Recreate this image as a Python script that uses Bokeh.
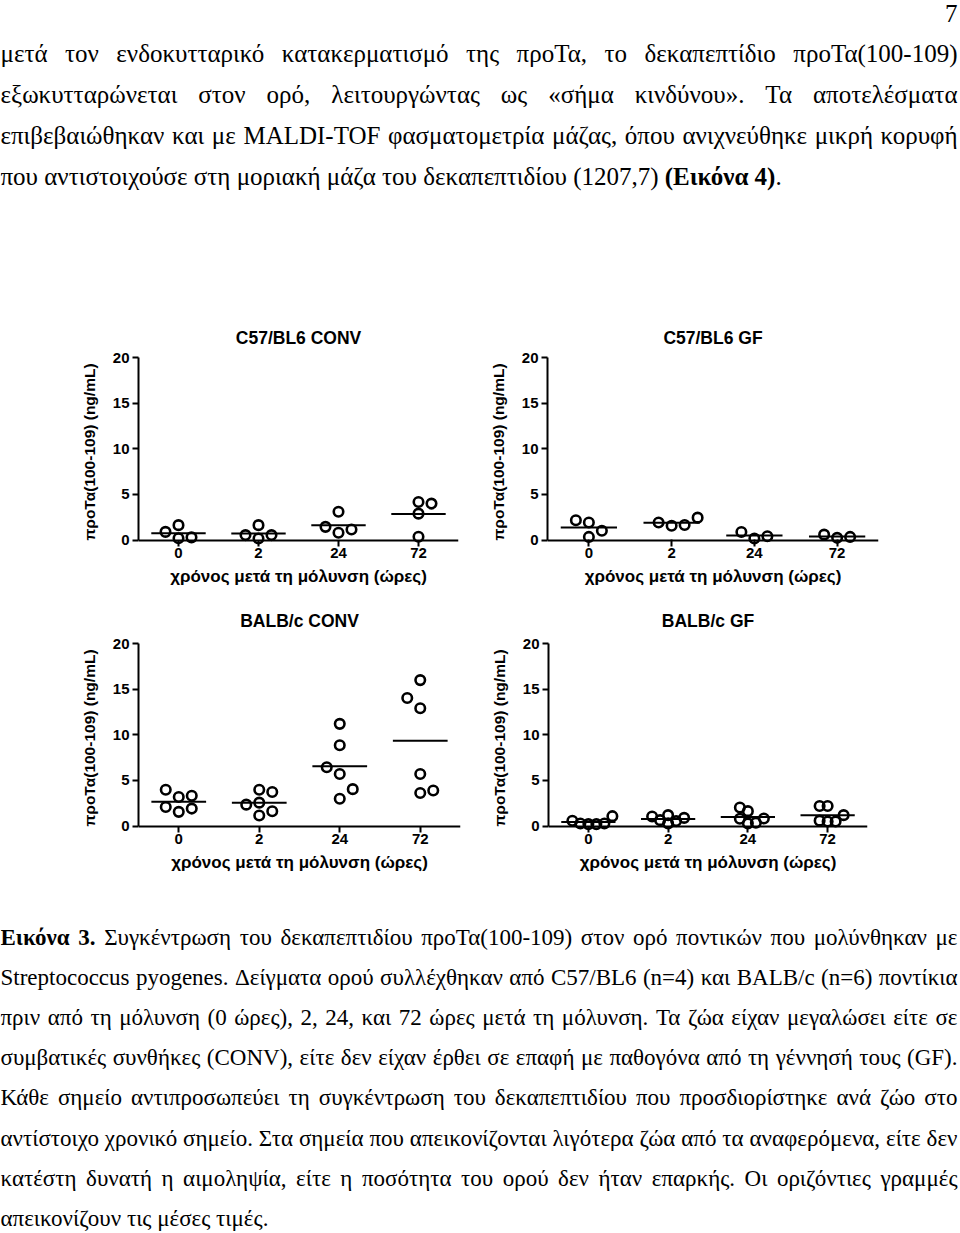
import glob
import os
import numpy as np
from bokeh.plotting import figure
from bokeh.models import Range1d, FixedTicker, ColumnDataSource, LinearAxis
from bokeh.layouts import column, row
from bokeh.core.properties import value
from bokeh.embed import file_html
from bokeh.resources import INLINE

# ---------------- data ----------------
time_labels = ["0", "2", "24", "72"]
panel_titles = ["C57/BL6 CONV", "C57/BL6 GF", "BALB/c CONV", "BALB/c GF"]
y_axis_title = "προΤα(100-109) (ng/mL)"
x_axis_title = "χρόνος μετά τη μόλυνση (ώρες)"

c57_conv = [[0.9, 1.64, 0.2, 0.3],
            [0.55, 1.64, 0.18, 0.55],
            [1.45, 3.1, 0.8, 1.16],
            [4.0, 4.18, 2.9, 0.36]]
c57_gf = [[2.18, 1.93, 1.02, 0.35],
          [1.93, 1.58, 2.46, 1.65],
          [0.88, 0.18, 0.42],
          [0.6, 0.25, 0.35]]
balb_conv = [[3.33, 3.18, 3.98, 2.1, 1.56, 1.92],
             [2.35, 3.73, 3.98, 2.57, 1.16, 1.63],
             [6.44, 11.2, 8.86, 5.71, 3.0, 4.05],
             [15.99, 14.03, 12.91, 5.71, 3.62, 3.9]]
balb_gf = [[1.09, 0.29, 0.22, 0.22, 0.29, 0.58],
           [1.2, 0.55, 0.9, 0.3, 0.65, 1.05],
           [2.04, 1.64, 0.84, 0.8, 0.36, 0.3],
           [2.2, 2.2, 1.2, 0.6, 0.5, 0.5]]

page_number = "7"
body_lines = [
    "μετά τον ενδοκυτταρικό κατακερματισμό της προΤα, το δεκαπεπτίδιο προΤα(100-109)",
    "εξωκυτταρώνεται στον ορό, λειτουργώντας ως «σήμα κινδύνου». Τα αποτελέσματα",
    "επιβεβαιώθηκαν και με MALDI-TOF φασματομετρία μάζας, όπου ανιχνεύθηκε μικρή κορυφή",
    "που αντιστοιχούσε στη μοριακή μάζα του δεκαπεπτιδίου (1207,7) **(Εικόνα 4)**.",
]
caption_lines = [
    "**Εικόνα 3.** Συγκέντρωση του δεκαπεπτιδίου προΤα(100-109) στον ορό ποντικών που μολύνθηκαν με",
    "Streptococcus pyogenes. Δείγματα ορού συλλέχθηκαν από C57/BL6 (n=4) και BALB/c (n=6) ποντίκια",
    "πριν από τη μόλυνση (0 ώρες), 2, 24, και 72 ώρες μετά τη μόλυνση. Τα ζώα είχαν μεγαλώσει είτε σε",
    "συμβατικές συνθήκες (CONV), είτε δεν είχαν έρθει σε επαφή με παθογόνα από τη γέννησή τους (GF).",
    "Κάθε σημείο αντιπροσωπεύει τη συγκέντρωση του δεκαπεπτιδίου που προσδιορίστηκε ανά ζώο στο",
    "αντίστοιχο χρονικό σημείο. Στα σημεία που απεικονίζονται λιγότερα ζώα από τα αναφερόμενα, είτε δεν",
    "κατέστη δυνατή η αιμοληψία, είτε η ποσότητα του ορού δεν ήταν επαρκής. Οι οριζόντιες γραμμές",
    "απεικονίζουν τις μέσες τιμές.",
]

# ---------------- text helpers ----------------
SERIF = "Liberation Serif"
SANS = "Liberation Sans"
BODY_PX = 25
CAPTION_PX = 23
PAGE_W = 960
TEXT_LEFT, TEXT_RIGHT = 0, 957

_font_cache = {}


def _find_font(fname):
    for d in ["/usr/share/fonts", "/usr/local/share/fonts", os.path.expanduser("~/.fonts")]:
        hits = glob.glob(os.path.join(d, "**", fname), recursive=True)
        if hits:
            return hits[0]
    return None


def measure(s, bold, size):
    key = (bold, size)
    if key not in _font_cache:
        f = None
        try:
            from PIL import ImageFont
            fname = "LiberationSerif-Bold.ttf" if bold else "LiberationSerif-Regular.ttf"
            path = _find_font(fname) or fname
            f = ImageFont.truetype(path, size)
        except Exception:
            f = None
        _font_cache[key] = f
    f = _font_cache[key]
    if f is not None:
        return f.getlength(s)
    return len(s) * size * (0.5 if bold else 0.45)


def parse(line):
    parts = line.split("**")
    runs = [(t, i % 2 == 1) for i, t in enumerate(parts) if t]
    words = [[]]
    for t, b in runs:
        pieces = t.split(" ")
        for j, piece in enumerate(pieces):
            if j > 0:
                words.append([])
            if piece:
                words[-1].append((piece, b))
    return [w for w in words if w]


def layout_lines(lines, baselines, left, right, size):
    reg = dict(x=[], y=[], t=[])
    bld = dict(x=[], y=[], t=[])
    space = measure(" ", False, size)
    for k, (line, yb) in enumerate(zip(lines, baselines)):
        words = parse(line)
        widths = [sum(measure(t, b, size) for t, b in w) for w in words]
        last = (k == len(lines) - 1)
        if last or len(words) < 2:
            gap = space
        else:
            gap = max((right - left - sum(widths)) / (len(words) - 1), space * 0.5)
        x = left
        for w, wd in zip(words, widths):
            xx = x
            for t, b in w:
                d = bld if b else reg
                d["x"].append(xx)
                d["y"].append(yb)
                d["t"].append(t)
                xx += measure(t, b, size)
            x += wd + gap
    return reg, bld


def text_figure(height, top, lines, baselines, size, extra=None):
    p = figure(width=PAGE_W, height=height, x_range=Range1d(0, PAGE_W),
               y_range=Range1d(top + height, top), min_border=0,
               x_axis_location=None, y_axis_location=None,
               output_backend="svg", toolbar_location=None)
    p.grid.visible = False
    p.outline_line_color = None
    reg, bld = layout_lines(lines, baselines, TEXT_LEFT, TEXT_RIGHT, size)
    for d, style in ((reg, "normal"), (bld, "bold")):
        p.text(x="x", y="y", text="t", source=ColumnDataSource(d),
               text_font=value(SERIF), text_font_size=f"{size}px",
               text_font_style=style, text_color="black",
               text_baseline="alphabetic", text_align="left")
    if extra:
        p.text(x=[extra[1]], y=[extra[2]], text=[extra[0]],
               text_font=value(SERIF), text_font_size=f"{size}px",
               text_color="black", text_baseline="alphabetic", text_align="right")
    return p


# ---------------- panel helpers ----------------
Y_LOW = -0.7
Y_HIGH = 20.0


def swarm(vals, px_x, px_y, step, diam):
    vals = np.asarray(vals, dtype=float)
    order = np.argsort(vals, kind="stable")
    placed = []
    offs = np.zeros(len(vals))
    npos = nneg = 0
    for i in order:
        y = vals[i] * px_y
        cands = [0.0]
        for k in range(1, 10):
            if npos <= nneg:
                cands += [k * step, -k * step]
            else:
                cands += [-k * step, k * step]
        chosen = cands[-1]
        for c in cands:
            if all((c - qx) ** 2 + (y - qy) ** 2 >= diam ** 2 for qx, qy in placed):
                chosen = c
                break
        placed.append((chosen, y))
        offs[i] = chosen / px_x
        if chosen > 0:
            npos += 1
        elif chosen < 0:
            nneg += 1
    return offs


def style_axis(ax):
    ax.axis_line_width = 2
    ax.axis_line_color = "black"
    ax.major_tick_line_width = 2
    ax.major_tick_line_color = "black"
    ax.major_tick_in = 0
    ax.minor_tick_line_color = None
    ax.major_label_text_font = SANS
    ax.major_label_text_font_style = "bold"
    ax.major_label_text_font_size = "15px"
    ax.major_label_text_color = "black"
    ax.axis_label_text_font = SANS
    ax.axis_label_text_font_style = "bold"
    ax.axis_label_text_font_size = "17px"
    ax.axis_label_text_color = "black"


def make_panel(title, groups, width, height, left, right, top, bottom,
               title_standoff, step, diam):
    p = figure(width=width, height=height,
               x_range=Range1d(0, len(time_labels)), y_range=Range1d(Y_LOW, Y_HIGH),
               min_border_left=left, min_border_right=right,
               min_border_top=top, min_border_bottom=bottom,
               output_backend="svg", toolbar_location=None, title=title)
    p.grid.visible = False
    p.outline_line_color = None

    p.title.align = "center"
    p.title.text_font = SANS
    p.title.text_font_size = "17.5px"
    p.title.text_font_style = "bold"
    p.title.text_color = "black"
    p.title.standoff = title_standoff

    frame_w = width - left - right
    frame_h = height - top - bottom
    px_x = frame_w / len(time_labels)
    px_y = frame_h / (Y_HIGH - Y_LOW)

    xs, ys = [], []
    centers, means = [], []
    for gi, vals in enumerate(groups):
        c = gi + 0.5
        offs = swarm(vals, px_x, px_y, step, diam)
        xs += list(c + offs)
        ys += list(vals)
        centers.append(c)
        means.append(float(np.mean(vals)))
    centers = np.array(centers)
    p.segment(x0=centers - 0.34, x1=centers + 0.34, y0=means, y1=means,
              line_color="black", line_width=2)
    p.scatter(x=xs, y=ys, marker="circle", size=9.5, fill_color="white",
              fill_alpha=0.0, line_color="black", line_width=2.6)

    tick_pos = [i + 0.5 for i in range(len(time_labels))]

    # axis at the frame bottom: labels, title, and ticks reaching up to y = 0
    xa = p.xaxis[0]
    style_axis(xa)
    xa.ticker = FixedTicker(ticks=tick_pos)
    xa.major_label_overrides = {t: lab for t, lab in zip(tick_pos, time_labels)}
    xa.axis_label = x_axis_title
    xa.axis_line_color = None
    xa.major_tick_out = 0
    xa.major_tick_in = int(round(-Y_LOW * px_y))
    xa.major_label_standoff = 1
    xa.axis_label_standoff = 6

    # the visible axis line exactly at y = 0
    x0 = LinearAxis(fixed_location=0, ticker=FixedTicker(ticks=[]))
    style_axis(x0)
    x0.major_tick_out = 0
    x0.major_label_standoff = 0
    x0.axis_label_standoff = 0
    p.add_layout(x0, "below")

    ya = p.yaxis[0]
    style_axis(ya)
    ya.bounds = (0, 20)
    ya.ticker = FixedTicker(ticks=[0, 5, 10, 15, 20])
    ya.axis_label = y_axis_title
    ya.axis_label_text_font_size = "15.5px"
    ya.major_tick_out = 6
    ya.major_label_standoff = 3
    ya.axis_label_standoff = 12
    return p


top_fig = text_figure(258, 0, body_lines, [53, 94, 135, 176], BODY_PX,
                      extra=(page_number, 957, 13))

# row 1: page y 258 -> 594, row 2: 594 -> 905
p1 = make_panel(panel_titles[0], c57_conv, 478, 336, 138, 20, 99, 48, 20, 13, 11)
p2 = make_panel(panel_titles[1], c57_gf, 482, 336, 69, 82, 93, 47, 19, 13, 11)
p3 = make_panel(panel_titles[2], balb_conv, 478, 311, 138, 18, 48, 72, 25, 13, 11)
p4 = make_panel(panel_titles[3], balb_gf, 482, 311, 70, 93, 49, 73, 26, 8, 8)

cap_fig = text_figure(328, 905, caption_lines,
                      [937 + 40.1 * i for i in range(len(caption_lines))], CAPTION_PX)

layout = column(top_fig, row(p1, p2, spacing=0), row(p3, p4, spacing=0), cap_fig, spacing=0)

open("out.html", "w").write(file_html(layout, INLINE))
